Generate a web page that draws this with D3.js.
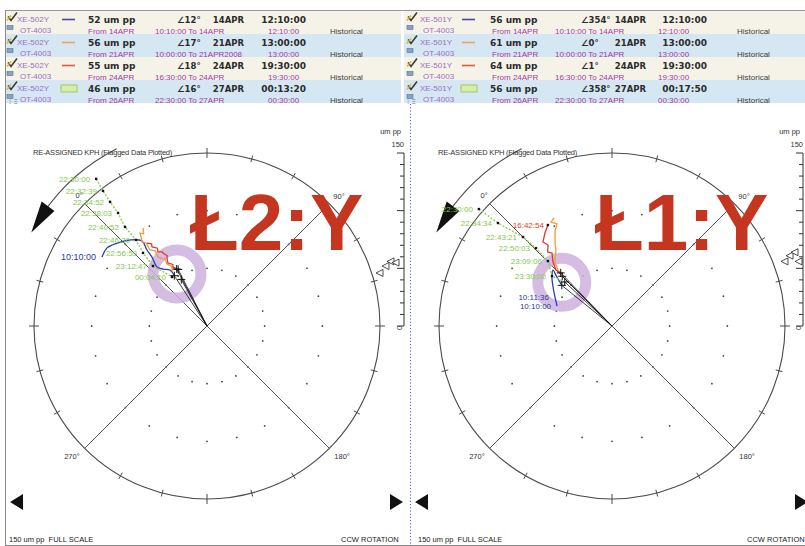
<!DOCTYPE html>
<html>
<head>
<meta charset="utf-8">
<script src="https://cdn.jsdelivr.net/npm/d3@7"></script>
<style>
  body { margin: 0; background: #fff; }
  svg { display: block; }
</style>
</head>
<body>
<svg id="chart" width="805" height="546"></svg>
<script>
// ---------------- data ----------------
const stationId = "OT-4003";
const probeIds = ["XE-502Y", "XE-501Y"];
const plotTitles = ["Ł2:Y", "Ł1:Y"];
const chartCaption = "RE-ASSIGNED KPH (Flagged Data Plotted)";
const footLeft = "150 um pp  FULL SCALE";
const footRight = "CCW ROTATION";
const fullScale = 150;
const ringLevels = [50, 100];
const scaleTicks = [0, 10, 20, 30, 40, 50, 60, 70, 80, 90, 100, 110, 120, 130, 140, 150];
const scaleLabels = ["0", "150"];
const axisAngles = [0, 90, 180, 270];
const axisLabels = ["0°", "90°", "180°", "270°"];

// XE-502Y : final amplitude / phase of each run
const ampL = [52, 56, 55, 46];
const phaseL = [12, 17, 18, 16];
const dayL = ["14APR", "21APR", "24APR", "27APR"];
const timeL = ["12:10:00", "13:00:00", "19:30:00", "00:13:20"];
const fromL = ["From 14APR", "From 21APR", "From 24APR", "From 26APR"];
const rangeL = ["10:10:00 To 14APR", "10:00:00 To 21APR2008", "16:30:00 To 24APR", "22:30:00 To 27APR"];
const untilL = ["12:10:00", "13:00:00", "19:30:00", "00:30:00"];

// XE-501Y
const ampR = [56, 61, 64, 56];
const phaseR = [354, 0, 1, 358];
const dayR = ["14APR", "21APR", "24APR", "27APR"];
const timeR = ["12:10:00", "13:00:00", "19:30:00", "00:17:50"];
const fromR = ["From 14APR", "From 21APR", "From 24APR", "From 26APR"];
const rangeR = ["10:10:00 To 14APR", "10:00:00 To 21APR", "16:30:00 To 24APR", "22:30:00 To 27APR"];
const untilR = ["12:10:00", "13:00:00", "19:30:00", "00:30:00"];

// orbit traces, [amplitude um pp, phase deg]
const trace14L = [[108.9,348.3],[110,353],[106,357.7],[100,3.2],[92.8,7.6],[84,6.7],[76.5,6.4],[67,4.7],[62.4,7.3],[58.2,11.5],[52,12]];
const trace21L = [[101.5,11.9],[97,10.5],[99.4,9.2],[95,8.2],[92,7.3],[89,9],[87.4,8.5],[82.4,8.1],[79,10.5],[73.4,9.6],[70,11.5],[68.5,12.9],[64,12.2],[60,14.5],[57.2,13],[56,17]];
const trace24L = [[88.8,9.1],[86,11],[83.5,10.2],[80,12.5],[77,11.5],[75,14],[73.9,13.9],[70,15.5],[68.4,14.5],[64.2,13.2],[61,16],[59,15],[55,18]];
const trace27L = [[159.7,8],[147.8,7.4],[136.5,7],[124.7,6.8],[111.5,5.4],[96.7,5.5],[84.2,3.8],[70,3],[52.2,9.5],[46,16]];

const trace14R = [[50.7,335],[55.5,342],[61.3,348.5],[67.2,354.2],[70.5,358.5],[65,357],[56,354]];
const trace21R = [[106.3,16.8],[104.5,14.6],[100.5,16.7],[96,14],[91.6,12.4],[86,10],[81.8,8.6],[77,5],[73.7,2.9],[67.5,1],[61,0]];
const trace24R = [[103.7,12.6],[99.4,9.2],[94.3,5.6],[89.5,6.7],[85,4],[81.9,5.6],[75.5,2.3],[68.7,0],[64,1]];
const trace27R = [[153.6,356.3],[133.2,357.1],[109.1,0],[94.4,0.7],[79.1,0.4],[67.7,354.8],[56,358]];

// time stamps written beside the first points of a trace
const stamps14L = ["10:10:00"];
const stamps24L = [];
const stamps27L = ["22:30:00","22:32:39","22:34:52","22:38:03","22:40:52","22:46:30","22:56:59","23:12:47","00:04:10"];
const stamps14R = ["10:10:00","10:11:36"];
const stamps24R = ["16:42:54"];
const stamps27R = ["22:30:00","22:34:34","22:43:21","22:50:03","23:09:06","23:30:00"];

// highlighted zone (centre amplitude, phase)
const zoneL = [52, 15];
const zoneR = [57.7, 356];

// ---------------- style ----------------
const colors = {
  run14: "#2a3db4", run21: "#f39a3a", run24: "#e2382a", run27: "#8fd14f",
  stamp14: "#2c3aa0", stamp24: "#dc3a2a", stamp27: "#86c84c",
  swatch14: "#4b4b9c", swatch21: "#f2a263", swatch24: "#e3593a",
  rowA: "#f5f3e7", rowB: "#d5e7f3", probe: "#9d6cc9", sub: "#a23aa6",
  axis: "#555", title: "#c4361f", zone: "#cdb0de"
};
const SANS = "'Liberation Sans', Arial, sans-serif";
const BOLD = "'DejaVu Sans', Verdana, sans-serif";

const svg = d3.select("#chart");

const panels = [
  { ox: 0, hx: 0, barX: 404, probe: probeIds[0], title: plotTitles[0],
    amp: ampL, phase: phaseL, day: dayL, time: timeL, from: fromL, range: rangeL, until: untilL,
    traces: [trace14L, trace21L, trace24L, trace27L],
    stamps: [stamps14L, [], stamps24L, stamps27L], zone: zoneL,
    cols: { icon: 6, probe: 17, sw: 62, amp: 88, ang: 177, day: 244, time: 306, from: 88, range: 155, until: 268, hist: 330 },
    triOff: [18, 13, 8, 24] },
  { ox: 405, hx: 400, barX: 803, probe: probeIds[1], title: plotTitles[1],
    amp: ampR, phase: phaseR, day: dayR, time: timeR, from: fromR, range: rangeR, until: untilR,
    traces: [trace14R, trace21R, trace24R, trace27R],
    stamps: [stamps14R, [], stamps24R, stamps27R], zone: zoneR,
    cols: { icon: 406, probe: 420, sw: 462, amp: 490, ang: 581, day: 646, time: 707, from: 492, range: 555, until: 658, hist: 737 },
    triOff: [18, 13, 8, 4] }
];

const runKeys = ["14", "21", "24", "27"];

// ---------------- frame ----------------
svg.append("line").attr("x1", 5).attr("x2", 805).attr("y1", 10.5).attr("y2", 10.5).attr("stroke", "#9a9a9a");
svg.append("line").attr("x1", 5.5).attr("x2", 5.5).attr("y1", 10).attr("y2", 546).attr("stroke", "#8a8a8a");
svg.append("line").attr("x1", 5).attr("x2", 805).attr("y1", 545.5).attr("y2", 545.5).attr("stroke", "#8a8a8a");

// ---------------- header tables ----------------
panels.forEach(p => {
  const h = svg.append("g");
  const c = p.cols;
  const x0 = p.hx === 0 ? 6 : 404;
  const x1 = p.hx === 0 ? 401 : 805;
  p.amp.forEach((a, i) => {
    const top = 11 + i * 23;
    h.append("rect").attr("x", x0).attr("y", top).attr("width", x1 - x0).attr("height", 23)
      .attr("fill", i % 2 ? colors.rowB : colors.rowA);
    const y1 = top + 8.5, y2 = top + 19.5;
    // row icons
    h.append("path").attr("d", `M${c.icon + 2},${y1 - 3} l3,4 l6,-8`).attr("fill", "none")
      .attr("stroke", "#3b3b3b").attr("stroke-width", 1.6);
    h.append("path").attr("d", `M${c.icon + 1},${y1 + 1} l4,-5`).attr("stroke", "#e0b030").attr("stroke-width", 1.4);
    h.append("rect").attr("x", c.icon + 1).attr("y", y2 - 5).attr("width", 6).attr("height", 4)
      .attr("fill", "#8aa2c8").attr("stroke", "#5a6f96").attr("stroke-width", 0.6);
    h.append("text").attr("x", c.probe).attr("y", y1 + 2.5).text(p.probe)
      .attr("font-family", SANS).attr("font-size", 8).attr("fill", colors.probe);
    h.append("text").attr("x", c.probe + 3).attr("y", y2 + 2.5).text(stationId)
      .attr("font-family", SANS).attr("font-size", 8).attr("fill", colors.probe);
    // legend swatch
    const k = runKeys[i];
    if (k === "27") {
      h.append("rect").attr("x", c.sw - 1).attr("y", y1 - 3.5).attr("width", 16).attr("height", 7)
        .attr("fill", "#d8eea6").attr("stroke", "#9fc963").attr("stroke-width", 1);
    } else {
      h.append("line").attr("x1", c.sw).attr("x2", c.sw + 13).attr("y1", y1).attr("y2", y1)
        .attr("stroke", colors["swatch" + k]).attr("stroke-width", 1.6);
    }
    const bold = (x, txt, anchor, size) => h.append("text").attr("x", x).attr("y", y1 + 3.5).text(txt)
      .attr("text-anchor", anchor || "start").attr("font-family", BOLD).attr("font-weight", "bold")
      .attr("font-size", size || 9).attr("fill", "#2b2b2b");
    bold(c.amp, `${a} um pp`);
    bold(c.ang, `∠${p.phase[i]}°`, "start", 8.5);
    bold(c.day, p.day[i], "end", 8.5);
    bold(c.time, p.time[i], "end");
    const sub = (x, txt, fill) => h.append("text").attr("x", x).attr("y", y2 + 3).text(txt)
      .attr("font-family", SANS).attr("font-size", 8).attr("fill", fill || colors.sub);
    sub(c.from, p.from[i]);
    const rt = sub(c.range, p.range[i]);
    const rEnd = c.range + rt.node().getComputedTextLength() + 3;
    sub(Math.max(c.until, rEnd), p.until[i]);
    sub(c.hist, "Historical", "#3d3d3d");
  });
  h.append("text").attr("x", x0 + 3).attr("y", 104).text("⁝ Ξ")
    .attr("font-family", BOLD).attr("font-size", 7).attr("fill", "#666");
});

// dotted separator between the two probes
svg.append("line").attr("x1", 410.5).attr("x2", 410.5).attr("y1", 104).attr("y2", 546)
  .attr("stroke", "#4a62c4").attr("stroke-width", 1).attr("stroke-dasharray", "1.2,2");

// ---------------- polar plots ----------------
const CY = 326, R = 173;
const rScale = d3.scaleLinear().domain([0, fullScale]).range([0, R]);
const toRad = d => d * Math.PI / 180;

panels.forEach(p => {
  const CX = 207 + p.ox;
  const g = svg.append("g");
  // phase 0 sits on the upper-left diagonal and grows toward the upper-right
  const pos = (amp, ph) => {
    const t = toRad(225 + ph);
    return [CX + rScale(amp) * Math.cos(t), CY + rScale(amp) * Math.sin(t)];
  };
  const line = d3.line().x(d => pos(d[0], d[1])[0]).y(d => pos(d[0], d[1])[1]);

  // outer circle
  g.append("circle").attr("cx", CX).attr("cy", CY).attr("r", rScale(fullScale))
    .attr("fill", "none").attr("stroke", "#4a4a4a").attr("stroke-width", 1.1);
  // tick marks every 15 degrees across the rim
  d3.range(0, 360, 15).forEach(ph => {
    if (ph % 90 === 0) return;
    const major = (ph + 45) % 90 === 0;
    const h = major ? 5 : 3.5;
    const a = pos(fullScale - h * fullScale / R, ph), b = pos(fullScale + h * fullScale / R, ph);
    g.append("line").attr("x1", a[0]).attr("y1", a[1]).attr("x2", b[0]).attr("y2", b[1])
      .attr("stroke", "#4a4a4a").attr("stroke-width", 1);
  });
  // dotted amplitude rings
  ringLevels.forEach(lv => {
    d3.range(0, 360, 15).forEach(ph => {
      const q = pos(lv, ph);
      g.append("circle").attr("cx", q[0]).attr("cy", q[1]).attr("r", 0.9).attr("fill", "#444");
    });
  });
  // phase axes
  [[0, 180], [90, 270]].forEach(([a1, a2]) => {
    const a = pos(fullScale, a1), b = pos(fullScale, a2);
    g.append("line").attr("x1", a[0]).attr("y1", a[1]).attr("x2", b[0]).attr("y2", b[1])
      .attr("stroke", colors.axis).attr("stroke-width", 1);
  });
  axisAngles.forEach((ang, i) => {
    const q = pos(fullScale, ang);
    const cfg = [[-2, -6, "end"], [4, -5, "start"], [5, 11, "start"], [-5, 11, "end"]][i];
    g.append("text").attr("x", q[0] + cfg[0]).attr("y", q[1] + cfg[1]).text(axisLabels[i])
      .attr("text-anchor", cfg[2]).attr("font-family", SANS).attr("font-size", 7.5).attr("fill", "#333");
  });

  // rotation arc with its arrow head (screen angles, clockwise from +x)
  const arcR = rScale(fullScale) + 26;
  const at = deg => [CX + arcR * Math.cos(toRad(deg)), CY + arcR * Math.sin(toRad(deg))];
  const s0 = at(214), s1 = at(243);
  g.append("path").attr("d", `M${s0[0]},${s0[1]} A${arcR},${arcR} 0 0 1 ${s1[0]},${s1[1]}`)
    .attr("fill", "none").attr("stroke", "#4a4a4a").attr("stroke-width", 1.1);
  {
    const tip = at(208), base = at(217);
    const nx = Math.cos(toRad(217)), ny = Math.sin(toRad(217));
    g.append("path").attr("d",
      `M${tip[0]},${tip[1]} L${base[0] + nx * 8},${base[1] + ny * 8} L${base[0] - nx * 8},${base[1] - ny * 8} Z`)
      .attr("fill", "#111");
  }
  g.append("text").attr("x", 33 + p.ox).attr("y", 155).text(chartCaption)
    .attr("font-family", SANS).attr("font-size", 7.5).attr("fill", "#333").attr("letter-spacing", -0.2);

  // highlighted zone
  const z = pos(p.zone[0], p.zone[1]);
  g.append("circle").attr("cx", z[0]).attr("cy", z[1]).attr("r", 24)
    .attr("fill", "none").attr("stroke", colors.zone).attr("stroke-width", 11).attr("opacity", 0.85);

  // vectors from the origin to each final reading
  p.amp.forEach((a, i) => {
    const q = pos(a, p.phase[i]);
    g.append("line").attr("x1", CX).attr("y1", CY).attr("x2", q[0]).attr("y2", q[1])
      .attr("stroke", "#111").attr("stroke-width", 0.8);
  });

  // orbit traces
  p.traces.forEach((tr, i) => {
    const k = runKeys[i];
    const path = g.append("path").attr("d", (k === "14" ? line.curve(d3.curveCatmullRom) : line.curve(d3.curveLinear))(tr))
      .attr("fill", "none").attr("stroke", colors["run" + k]).attr("stroke-width", k === "27" ? 1.4 : 1.3);
    if (k === "27") path.attr("stroke-dasharray", "2,1.6");
  });
  line.curve(d3.curveLinear);

  // time stamps
  p.traces.forEach((tr, i) => {
    const k = runKeys[i];
    p.stamps[i].forEach((s, j) => {
      const q = pos(tr[j][0], tr[j][1]);
      if (k !== "14") g.append("rect").attr("x", q[0] - 1.2).attr("y", q[1] - 1.2).attr("width", 2.4).attr("height", 2.4).attr("fill", "#111");
      g.append("text").attr("x", q[0] - (k === "24" ? 4 : 6)).attr("y", q[1] + 3).text(s)
        .attr("text-anchor", "end").attr("font-family", SANS)
        .attr("font-size", k === "14" && p.ox === 0 ? 9 : 8)
        .attr("fill", colors["stamp" + k]);
    });
  });

  // final readings
  p.amp.forEach((a, i) => {
    const q = pos(a, p.phase[i]);
    g.append("path").attr("d", `M${q[0] - 4},${q[1]} h8 M${q[0]},${q[1] - 4} v8`)
      .attr("stroke", "#111").attr("stroke-width", 1);
  });

  // amplitude scale bar
  const yBar = d3.scaleLinear().domain([0, fullScale]).range([CY, CY - R]);
  const bar = svg.append("g");
  bar.append("line").attr("x1", p.barX).attr("x2", p.barX).attr("y1", yBar(0)).attr("y2", yBar(fullScale))
    .attr("stroke", "#333").attr("stroke-width", 1);
  scaleTicks.forEach(t => {
    const major = t % 50 === 0;
    bar.append("line").attr("x1", p.barX - (major ? 7 : 4)).attr("x2", p.barX).attr("y1", yBar(t)).attr("y2", yBar(t))
      .attr("stroke", "#333").attr("stroke-width", 1);
  });
  bar.append("text").attr("x", p.barX).attr("y", yBar(fullScale) - 6).text(scaleLabels[1])
    .attr("text-anchor", "end").attr("font-family", SANS).attr("font-size", 7.5).attr("fill", "#333");
  bar.append("text").attr("x", p.barX - 3).attr("y", yBar(fullScale) - 19).text("um pp")
    .attr("text-anchor", "end").attr("font-family", SANS).attr("font-size", 7.5).attr("fill", "#333");
  bar.append("text").attr("transform", `translate(${p.barX - 2},${yBar(0) + 2}) rotate(-90)`).text(scaleLabels[0])
    .attr("text-anchor", "middle").attr("font-family", SANS).attr("font-size", 7.5).attr("fill", "#333");
  p.amp.forEach((a, i) => {
    const x = p.barX - p.triOff[i], y = yBar(a);
    bar.append("path").attr("d", `M${x - 4},${y} L${x + 3},${y - 3.5} L${x + 3},${y + 3.5} Z`)
      .attr("fill", "#fff").attr("stroke", "#222").attr("stroke-width", 0.8);
  });

  // big probe title
  svg.append("text").attr("x", 190 + p.ox).attr("y", 250).text(p.title)
    .attr("font-family", SANS).attr("font-weight", "bold").attr("font-size", 80)
    .attr("fill", colors.title);

  // paging arrows and footer
  const fy = 502;
  svg.append("path").attr("d", `M${10 + p.ox},${fy} L${23 + p.ox},${fy - 8} L${23 + p.ox},${fy + 8} Z`).attr("fill", "#111");
  svg.append("path").attr("d", `M${403 + p.ox},${fy} L${390 + p.ox},${fy - 8} L${390 + p.ox},${fy + 8} Z`).attr("fill", "#111");
  svg.append("text").attr("x", 9 + p.ox + (p.ox ? 4 : 0)).attr("y", 542).text(footLeft)
    .attr("font-family", SANS).attr("font-size", 7.5).attr("fill", "#222").attr("xml:space", "preserve");
  svg.append("text").attr("x", 341 + p.ox + (p.ox ? 1 : 0)).attr("y", 542).text(footRight)
    .attr("font-family", SANS).attr("font-size", 7.5).attr("fill", "#222");
});
</script>
</body>
</html>
